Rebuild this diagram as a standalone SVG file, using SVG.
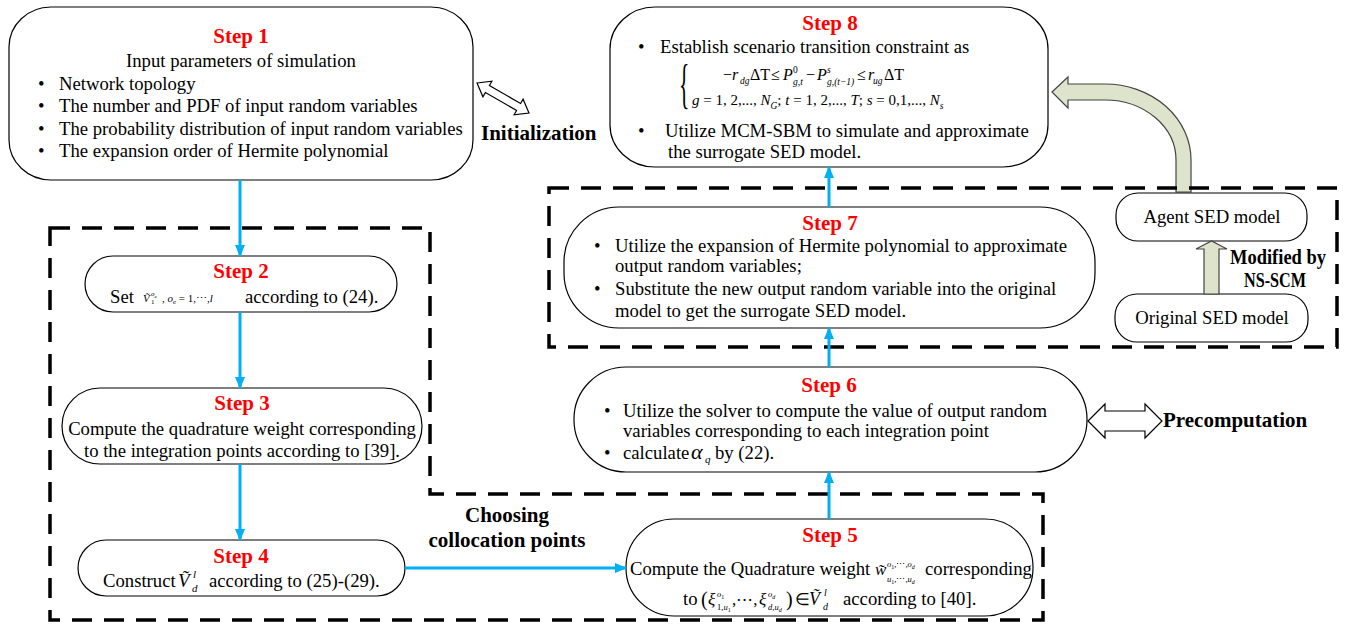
<svg xmlns="http://www.w3.org/2000/svg" width="1347" height="627" viewBox="0 0 1347 627">
<defs>
<style>
.box{fill:#fff;stroke:#000;stroke-width:1.2}
.title{font-family:"Liberation Serif",serif;font-weight:bold;font-size:21px;fill:#f00;text-anchor:middle}
.t{font-family:"Liberation Serif",serif;font-size:18.7px;fill:#000}
.m{font-family:"Liberation Serif",serif;fill:#000}
.i{font-style:italic}
.c{text-anchor:middle}
.lbl{font-family:"Liberation Serif",serif;font-weight:bold;font-size:21px;fill:#000}
.frame{fill:none;stroke:#000;stroke-width:3.5;stroke-dasharray:20 12}
.conn{stroke:#00B0F0;stroke-width:3;fill:none;marker-end:url(#ah)}
.fat{fill:#DEE3CB;stroke:#444;stroke-width:1.2}
.hollow{fill:#fff;stroke:#000;stroke-width:1.2}
</style>
<marker id="ah" markerUnits="userSpaceOnUse" markerWidth="12" markerHeight="12" viewBox="0 0 12 12" refX="11" refY="6" orient="auto">
<path d="M0,1 L12,6 L0,11 Z" fill="#00B0F0"/>
</marker>
</defs>

<g id="agent-arrow">
<path class="fat" d="M1191,192 L1191,160 A86 76 0 0 0 1105,84 L1068,84 L1068,77 L1052,92 L1068,108 L1068,100 L1105,100 A71 60 0 0 1 1176,160 L1176,192 Z"/>
</g>

<g id="frames">
<path class="frame" d="M50,228 L430,228 L430,494 L1043,494 L1043,620 L50,620 Z"/>
<rect class="frame" x="549" y="188" width="788" height="159"/>
</g>

<g id="step1">
<rect class="box" x="9" y="7" width="464" height="173" rx="42" ry="40"/>
<text class="title" x="241" y="43">Step 1</text>
<text class="t c" x="241" y="67">Input parameters of simulation</text>
<text class="t" x="38" y="90">•</text><text class="t" x="59" y="90">Network topology</text>
<text class="t" x="38" y="112">•</text><text class="t" x="59" y="112">The number and PDF of  input random variables</text>
<text class="t" x="38" y="135">•</text><text class="t" x="59" y="135">The probability distribution of input random variables</text>
<text class="t" x="38" y="157">•</text><text class="t" x="59" y="157">The expansion order of Hermite polynomial</text>
</g>

<g id="initialization">
<polygon class="hollow" transform="translate(503,98) rotate(30)" points="-30,0 -18,-9 -18,-4 18,-4 18,-9 30,0 18,9 18,4 -18,4 -18,9"/>
<text class="lbl" x="481" y="140" font-size="21.5">Initialization</text>
</g>

<g id="step8">
<rect class="box" x="610" y="7" width="438" height="160" rx="45" ry="42"/>
<text class="title" x="830" y="30">Step 8</text>
<text class="t" x="638" y="53">•</text><text class="t" x="660" y="53">Establish scenario transition constraint as</text>
<text class="m" font-size="36" transform="translate(679,102) scale(0.6,1.5)">{</text>
<g class="m" font-size="16">
<text x="723" y="80">−<tspan class="i">r</tspan></text>
<text x="740" y="84" font-size="9.5" class="i">dg</text>
<text x="750" y="80">ΔT</text>
<text x="771" y="80">≤</text>
<text x="783" y="80" class="i">P</text>
<text x="793" y="73" font-size="9.5">0</text>
<text x="793" y="85" font-size="9.5" class="i">g,t</text>
<text x="806" y="80">−</text>
<text x="817" y="80" class="i">P</text>
<text x="827" y="73" font-size="9.5" class="i">s</text>
<text x="827" y="85" font-size="9.5" class="i">g,(t−1)</text>
<text x="857" y="80">≤</text>
<text x="868" y="80" class="i">r</text>
<text x="873" y="84" font-size="9.5" class="i">ug</text>
<text x="884" y="80">ΔT</text>
</g>
<text class="m" font-size="15" x="692" y="105"><tspan class="i">g</tspan> = 1, 2,..., <tspan class="i">N</tspan><tspan class="i" font-size="9.5" dy="4">G</tspan><tspan dy="-4">; </tspan><tspan class="i">t</tspan> = 1, 2,..., <tspan class="i">T</tspan>; <tspan class="i">s</tspan> = 0,1,..., <tspan class="i">N</tspan><tspan class="i" font-size="9.5" dy="4">s</tspan></text>
<text class="t" x="638" y="137">•</text><text class="t" x="665" y="137">Utilize MCM-SBM to simulate and approximate</text>
<text class="t" x="668" y="158">the surrogate SED model.</text>
</g>

<g id="step7">
<rect class="box" x="564" y="207" width="531" height="121" rx="55" ry="55"/>
<text class="title" x="830" y="230">Step 7</text>
<text class="t" x="594" y="252">•</text><text class="t" x="615" y="252">Utilize the expansion of Hermite polynomial  to approximate</text>
<text class="t" x="615" y="272">output random variables;</text>
<text class="t" x="594" y="295">•</text><text class="t" x="615" y="295">Substitute  the new output random variable into the original</text>
<text class="t" x="615" y="317">model to get the surrogate SED model.</text>
</g>

<g id="agent-sed">
<rect class="box" x="1116" y="193" width="191" height="48" rx="22" ry="22"/>
<text class="t c" x="1212" y="223">Agent SED model</text>
</g>

<g id="original-sed">
<rect class="box" x="1115" y="294" width="193" height="48" rx="22" ry="22"/>
<text class="t c" x="1212" y="324">Original SED model</text>
</g>

<g id="modified">
<polygon class="fat" points="1204,294 1204,249 1196,249 1211.5,241 1227,249 1219,249 1219,294"/>
<text class="lbl" x="1230" y="264" font-size="17" textLength="96" lengthAdjust="spacingAndGlyphs">Modified by</text>
<text class="lbl" x="1244" y="287" font-size="17" textLength="62" lengthAdjust="spacingAndGlyphs">NS-SCM</text>
</g>

<g id="step6">
<rect class="box" x="574" y="367" width="513" height="105" rx="52" ry="52"/>
<text class="title" x="829" y="392">Step 6</text>
<text class="t" x="604" y="417">•</text><text class="t" x="623" y="417">Utilize the solver to compute the value of output random</text>
<text class="t" x="623" y="437">variables corresponding to each integration point</text>
<text class="t" x="604" y="459">•</text><text class="t" x="623" y="459">calculate</text>
<text class="m i" x="691" y="459" font-size="22">α</text><text class="m i" x="705" y="463" font-size="11">q</text>
<text class="t" x="715" y="459">by (22).</text>
</g>

<g id="precomputation">
<polygon class="hollow" transform="translate(1125,421)" points="-37,0 -20,-17 -20,-10 20,-10 20,-17 37,0 20,17 20,10 -20,10 -20,17"/>
<text class="lbl" x="1163" y="427">Precomputation</text>
</g>

<g id="step2">
<rect class="box" x="85" y="256" width="312" height="56" rx="28" ry="28"/>
<text class="title" x="241" y="278">Step 2</text>
<text class="t" x="110" y="303">Set</text>
<text class="m" font-size="11" y="302"><tspan x="143" class="i">Ṽ</tspan><tspan x="151" dy="2" font-size="7">1</tspan><tspan x="151" dy="-8" font-size="7" class="i">o</tspan><tspan dy="2" font-size="5" class="i">e</tspan><tspan x="162" dy="4">, </tspan><tspan class="i">o</tspan><tspan dy="2" font-size="7" class="i">e</tspan><tspan dy="-2"> = 1,⋯,</tspan><tspan class="i">l</tspan></text>
<text class="t" x="245" y="303">according to (24).</text>
</g>

<g id="step3">
<rect class="box" x="62" y="388" width="360" height="76" rx="38" ry="38"/>
<text class="title" x="242" y="410">Step 3</text>
<text class="t c" x="242" y="435">Compute the quadrature weight corresponding</text>
<text class="t c" x="242" y="457">to the integration points according to [39].</text>
</g>

<g id="step4">
<rect class="box" x="78" y="540" width="327" height="56" rx="28" ry="28"/>
<text class="title" x="241" y="563">Step 4</text>
<text class="t" x="103" y="587">Construct</text>
<text class="m i" x="178" y="587" font-size="19">Ṽ</text>
<text class="m i" x="193" y="578" font-size="11">l</text>
<text class="m i" x="192" y="592" font-size="11">d</text>
<text class="t" x="209" y="587">according to (25)-(29).</text>
</g>

<g id="choosing">
<text class="lbl c" x="507" y="522">Choosing</text>
<text class="lbl c" x="507" y="547">collocation points</text>
</g>

<g id="step5">
<rect class="box" x="626" y="519" width="407" height="97" rx="48" ry="48"/>
<text class="title" x="830" y="542">Step 5</text>
<text class="t" x="630" y="575" font-size="18">Compute the Quadrature weight</text>
<text class="m i" x="875" y="575" font-size="17">w̃</text>
<text class="m" font-size="8.5" y="567"><tspan x="887" class="i">o</tspan><tspan dy="2" font-size="6">1</tspan><tspan dy="-2">,⋯,</tspan><tspan class="i">o</tspan><tspan dy="2" font-size="6" class="i">d</tspan></text>
<text class="m" font-size="8.5" y="582"><tspan x="887" class="i">u</tspan><tspan dy="2" font-size="6">1</tspan><tspan dy="-2">,⋯,</tspan><tspan class="i">u</tspan><tspan dy="2" font-size="6" class="i">d</tspan></text>
<text class="t" x="925" y="575" font-size="18">corresponding</text>
<text class="t" x="683" y="605">to</text>
<text class="m" font-size="20" x="701" y="606">(</text>
<text class="m i" x="708" y="605" font-size="17">ξ</text>
<text class="m" font-size="8.5" y="597"><tspan x="717" class="i">o</tspan><tspan dy="2" font-size="6">1</tspan></text>
<text class="m" font-size="8.5" y="610"><tspan x="717">1,</tspan><tspan class="i">u</tspan><tspan dy="2" font-size="6">1</tspan></text>
<text class="m" font-size="17" x="732" y="605">,⋯,</text>
<text class="m i" x="759" y="605" font-size="17">ξ</text>
<text class="m" font-size="8.5" y="597"><tspan x="768" class="i">o</tspan><tspan dy="2" font-size="6" class="i">d</tspan></text>
<text class="m" font-size="8.5" y="610"><tspan x="768" class="i">d</tspan>,<tspan class="i">u</tspan><tspan dy="2" font-size="6" class="i">d</tspan></text>
<text class="m" font-size="20" x="786" y="606">)</text>
<text class="m" font-size="17" x="795" y="605">∈</text>
<text class="m i" x="809" y="605" font-size="18">Ṽ</text>
<text class="m i" x="824" y="596" font-size="10">l</text>
<text class="m i" x="823" y="610" font-size="10">d</text>
<text class="t" x="843" y="605">according to [40].</text>
</g>

<g id="connectors">
<line class="conn" x1="240" y1="180" x2="240" y2="256"/>
<line class="conn" x1="240" y1="312" x2="240" y2="388"/>
<line class="conn" x1="240" y1="464" x2="240" y2="540"/>
<line class="conn" x1="405" y1="568" x2="626" y2="568"/>
<line class="conn" x1="829" y1="519" x2="829" y2="472"/>
<line class="conn" x1="829" y1="367" x2="829" y2="328"/>
<line class="conn" x1="829" y1="207" x2="829" y2="167"/>
</g>
</svg>
